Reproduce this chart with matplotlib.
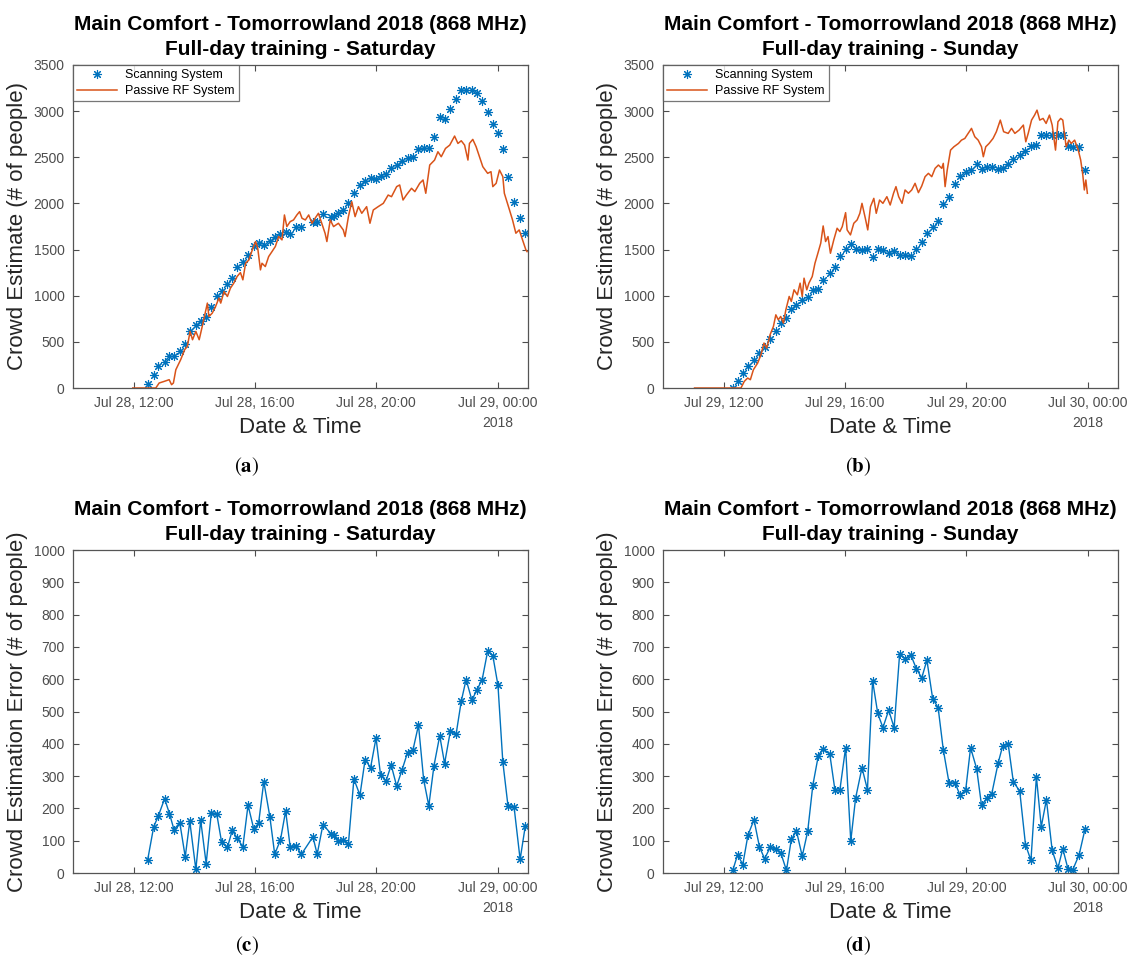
import numpy as np
import pandas as pd
import matplotlib
matplotlib.use("Agg")
import matplotlib.pyplot as plt
import matplotlib.dates as mdates

plt.rcParams['font.family'] = ['Liberation Sans', 'DejaVu Sans']

BLUE = '#0072BD'
ORANGE = '#D95319'
GREY = '#262626'

# ---- Saturday (Jul 28) -------------------------------------------------
sat_scan_hours = [12.46, 12.66, 12.81, 13.02, 13.18, 13.33, 13.52, 13.70, 13.85, 14.05,
                  14.21, 14.39, 14.56, 14.74, 14.90, 15.09, 15.25, 15.41, 15.60, 15.77,
                  15.96, 16.12, 16.29, 16.49, 16.65, 16.84, 17.01, 17.16, 17.34, 17.53,
                  17.91, 18.05, 18.24, 18.50, 18.59, 18.75, 18.91, 19.08, 19.26, 19.46,
                  19.63, 19.81, 19.99, 20.14, 20.32, 20.49, 20.67, 20.85, 21.03, 21.21,
                  21.39, 21.56, 21.73, 21.90, 22.09, 22.25, 22.44, 22.63, 22.80, 22.96,
                  23.15, 23.31, 23.49, 23.67, 23.84, 24.01, 24.17, 24.34, 24.54, 24.74,
                  24.91]
sat_scan_count = [43, 144, 242, 278, 343, 350, 397, 476, 613, 678,
                  721, 764, 883, 992, 1046, 1125, 1197, 1309, 1370, 1442,
                  1540, 1569, 1551, 1594, 1641, 1666, 1695, 1670, 1749, 1742,
                  1803, 1803, 1882, 1857, 1860, 1893, 1929, 2001, 2110, 2200,
                  2243, 2279, 2265, 2297, 2315, 2380, 2416, 2463, 2488, 2506,
                  2585, 2596, 2604, 2723, 2932, 2910, 3018, 3127, 3228, 3228,
                  3228, 3202, 3108, 2986, 2856, 2759, 2585, 2290, 2019, 1846,
                  1677]
sat_error = [40, 143, 176, 230, 184, 134, 156, 50, 160, 11,
             163, 29, 186, 182, 95, 79, 132, 108, 81, 210,
             136, 155, 283, 174, 58, 103, 192, 81, 85, 58,
             112, 58, 150, 122, 118, 98, 103, 91, 291, 241,
             351, 326, 418, 303, 285, 334, 269, 320, 373, 382,
             458, 289, 208, 332, 425, 339, 439, 430, 532, 599,
             535, 566, 599, 687, 673, 581, 344, 208, 205, 42,
             145]
sat_rf_hours = [11.97, 12.73, 12.84, 13.01, 13.17, 13.25, 13.31, 13.39, 13.55, 13.68,
                13.77, 13.86, 13.94, 14.05, 14.16, 14.26, 14.43, 14.48, 14.59, 14.70,
                14.81, 14.87, 14.98, 15.09, 15.19, 15.30, 15.41, 15.52, 15.60, 15.69,
                15.80, 15.91, 16.02, 16.09, 16.18, 16.23, 16.34, 16.45, 16.56, 16.67,
                16.78, 16.89, 16.97, 17.05, 17.16, 17.27, 17.38, 17.47, 17.55, 17.66,
                17.77, 17.88, 17.98, 18.09, 18.20, 18.31, 18.37, 18.48, 18.59, 18.75,
                18.91, 18.97, 19.08, 19.19, 19.30, 19.41, 19.52, 19.68, 19.79, 19.90,
                20.06, 20.23, 20.39, 20.50, 20.67, 20.77, 20.88, 20.99, 21.16, 21.27,
                21.43, 21.54, 21.63, 21.76, 21.92, 22.03, 22.14, 22.28, 22.42, 22.58,
                22.69, 22.80, 22.91, 23.02, 23.07, 23.18, 23.29, 23.51, 23.67, 23.78,
                23.84, 23.95, 24.06, 24.17, 24.22, 24.39, 24.49, 24.60, 24.71, 24.82,
                24.93, 24.97]
sat_rf_count = [0, 0, 54, 72, 90, 36, 54, 198, 307, 415,
                451, 613, 523, 613, 523, 667, 920, 775, 811, 883,
                974, 920, 1046, 992, 1082, 1136, 1208, 1251, 1172, 1352,
                1388, 1496, 1587, 1515, 1280, 1352, 1316, 1424, 1478, 1533,
                1641, 1605, 1875, 1749, 1803, 1821, 1875, 1911, 1839, 1821,
                1875, 1785, 1839, 1893, 1785, 1677, 1587, 1821, 1749, 1785,
                1713, 1641, 1857, 2019, 1857, 1965, 1893, 1965, 1785, 1929,
                1965, 2001, 2091, 2073, 2182, 2200, 2037, 2091, 2164, 2128,
                2218, 2254, 2110, 2416, 2470, 2560, 2506, 2596, 2632, 2730,
                2650, 2679, 2632, 2470, 2650, 2694, 2614, 2398, 2326, 2344,
                2182, 2218, 2362, 2290, 2110, 1929, 1821, 1677, 1713, 1605,
                1497, 1478]

# ---- Sunday (Jul 29) ---------------------------------------------------
sun_scan_hours = [12.30, 12.46, 12.63, 12.80, 13.00, 13.18, 13.35, 13.53, 13.71, 13.88,
                  14.07, 14.23, 14.40, 14.59, 14.77, 14.94, 15.12, 15.28, 15.50, 15.67,
                  15.83, 16.02, 16.19, 16.35, 16.56, 16.74, 16.91, 17.08, 17.25, 17.44,
                  17.62, 17.80, 17.98, 18.17, 18.35, 18.53, 18.70, 18.89, 19.07, 19.24,
                  19.43, 19.63, 19.79, 19.98, 20.14, 20.34, 20.50, 20.69, 20.84, 21.05,
                  21.20, 21.38, 21.55, 21.76, 21.95, 22.13, 22.31, 22.47, 22.64, 22.83,
                  23.02, 23.18, 23.35, 23.50, 23.72, 23.91]
sun_scan_count = [0, 72, 162, 234, 307, 379, 440, 530, 613, 703,
                  757, 855, 901, 956, 984, 1064, 1071, 1172, 1251, 1309,
                  1432, 1507, 1558, 1507, 1497, 1507, 1424, 1507, 1497, 1460,
                  1486, 1442, 1442, 1432, 1507, 1579, 1677, 1749, 1814, 1991,
                  2073, 2207, 2301, 2337, 2362, 2423, 2373, 2391, 2398, 2373,
                  2380, 2423, 2477, 2521, 2571, 2625, 2632, 2741, 2741, 2741,
                  2741, 2741, 2622, 2614, 2607, 2362]
sun_error = [8, 57, 26, 117, 165, 81, 44, 79, 75, 63,
             8, 104, 130, 52, 129, 272, 363, 385, 367, 256,
             256, 388, 99, 232, 326, 258, 595, 494, 450, 504,
             450, 677, 664, 675, 633, 604, 659, 540, 512, 382,
             279, 279, 241, 258, 388, 323, 210, 233, 246, 341,
             394, 399, 282, 254, 88, 39, 298, 143, 227, 70,
             15, 75, 13, 8, 57, 135]
sun_rf_hours = [11.04, 12.57, 12.68, 12.79, 12.88, 12.98, 13.12, 13.23, 13.33, 13.42,
                13.53, 13.64, 13.72, 13.80, 13.88, 13.97, 14.05, 14.16, 14.23, 14.32,
                14.43, 14.52, 14.59, 14.65, 14.74, 14.81, 14.92, 15.01, 15.09, 15.20,
                15.28, 15.36, 15.44, 15.52, 15.63, 15.74, 15.83, 15.91, 16.02, 16.07,
                16.18, 16.29, 16.40, 16.49, 16.56, 16.67, 16.75, 16.84, 16.95, 17.03,
                17.14, 17.25, 17.38, 17.49, 17.60, 17.68, 17.77, 17.88, 17.98, 18.09,
                18.20, 18.31, 18.42, 18.53, 18.64, 18.75, 18.86, 18.97, 19.08, 19.19,
                19.24, 19.30, 19.37, 19.48, 19.59, 19.74, 19.84, 19.95, 20.06, 20.17,
                20.28, 20.39, 20.50, 20.56, 20.64, 20.75, 20.88, 20.99, 21.12, 21.23,
                21.38, 21.49, 21.60, 21.74, 21.88, 21.96, 22.04, 22.15, 22.25, 22.33,
                22.42, 22.53, 22.63, 22.74, 22.83, 22.94, 23.02, 23.11, 23.18, 23.29,
                23.38, 23.46, 23.57, 23.69, 23.77, 23.84, 23.89, 23.94, 23.99]
sun_rf_count = [0, 0, 72, 108, 90, 198, 270, 361, 487, 433,
                577, 667, 793, 739, 775, 703, 847, 992, 938, 1064,
                1010, 1136, 992, 1190, 1064, 1136, 1208, 1352, 1442, 1569,
                1756, 1587, 1641, 1460, 1605, 1731, 1695, 1749, 1900, 1713,
                1659, 1785, 1821, 1893, 2001, 1839, 1713, 1965, 2055, 1893,
                2037, 2001, 2073, 1983, 2110, 2182, 2073, 2001, 2146, 2110,
                2146, 2218, 2117, 2189, 2290, 2326, 2290, 2380, 2416, 2380,
                2434, 2182, 2362, 2578, 2614, 2650, 2686, 2704, 2759, 2813,
                2722, 2686, 2614, 2506, 2614, 2650, 2704, 2777, 2903, 2777,
                2759, 2813, 2759, 2795, 2849, 2668, 2759, 2903, 2957, 3011,
                2903, 2921, 2867, 2957, 2849, 2578, 2885, 2921, 2903, 2614,
                2686, 2650, 2686, 2578, 2470, 2308, 2146, 2254, 2110]

title_line1 = 'Main Comfort - Tomorrowland 2018 (868 MHz)'
day_dates = ['2018-07-28', '2018-07-29']
panel_tags = ['a', 'b', 'c', 'd']


def to_dates(day, hours):
    base = pd.Timestamp(day)
    t = base + pd.to_timedelta(np.asarray(hours), unit='h')
    return mdates.date2num(t.to_pydatetime())


def style_axes(ax, day, ymax, ystep):
    base = pd.Timestamp(day)
    ax.set_xlim(to_dates(day, [10, 25]))
    ax.set_ylim(0, ymax)
    ax.set_yticks(np.arange(0, ymax + 1, ystep))
    ticks = to_dates(day, [12, 16, 20, 24])
    ax.set_xticks(ticks)
    ax.xaxis.set_major_formatter(mdates.DateFormatter('%b %d, %H:%M'))
    ax.tick_params(direction='in', top=True, right=True, length=4, width=0.8,
                   labelsize=10, colors='#4d4d4d', pad=6)
    for sp in ax.spines.values():
        sp.set_color('#555555')
        sp.set_linewidth(0.9)
    ax.text(ticks[-1], -0.108, '2018', transform=ax.get_xaxis_transform(),
            ha='center', va='center', fontsize=10, color='#4d4d4d')
    ax.set_xlabel('Date & Time', fontsize=16, color=GREY, labelpad=5)
    ax.set_title(title_line1 + '\nFull-day training - ' + base.day_name(),
                 fontsize=15, fontweight='bold', pad=7, linespacing=1.42)


def main():
    fig = plt.figure(figsize=(11.37, 9.71), dpi=100)
    W, H = 1137, 971
    aw, ah = 455, 323
    corners = [(73, 65), (663, 65), (73, 550), (663, 550)]
    axes = [fig.add_axes([x / W, 1 - (y + ah) / H, aw / W, ah / H]) for x, y in corners]

    scan_h = [sat_scan_hours, sun_scan_hours]
    scan_c = [sat_scan_count, sun_scan_count]
    errs = [sat_error, sun_error]
    rf_h = [sat_rf_hours, sun_rf_hours]
    rf_c = [sat_rf_count, sun_rf_count]
    star = (8, 2, 0)

    for i in range(2):
        day = day_dates[i]
        # estimate panels
        ax = axes[i]
        ax.plot(to_dates(day, scan_h[i]), scan_c[i], linestyle='none', marker=star,
                markersize=6.5, markeredgewidth=0.8, color=BLUE, label='Scanning System')
        ax.plot(to_dates(day, rf_h[i]), rf_c[i], color=ORANGE, linewidth=1.1,
                label='Passive RF System')
        style_axes(ax, day, 3500, 500)
        ax.set_ylabel('Crowd Estimate (# of people)', fontsize=16, color=GREY, labelpad=4)
        leg = ax.legend(loc='upper left', fontsize=9, frameon=True, fancybox=False,
                        borderaxespad=0, handlelength=3.2, borderpad=0.35,
                        labelspacing=0.3, handletextpad=0.6)
        leg.get_frame().set_edgecolor('#555555')
        leg.get_frame().set_linewidth(0.9)

        # error panels
        ax = axes[i + 2]
        ax.plot(to_dates(day, scan_h[i]), errs[i], marker=star, markersize=6.5,
                markeredgewidth=0.8, color=BLUE, linewidth=1.0)
        style_axes(ax, day, 1000, 100)
        ax.set_ylabel('Crowd Estimation Error (# of people)', fontsize=16, color=GREY,
                      labelpad=4)

    caption_pos = [(247, 467), (858, 467), (247, 946), (858, 946)]
    for (x, y), tag in zip(caption_pos, panel_tags):
        fig.text(x / W, 1 - y / H, r'$(\mathbf{' + tag + '})$', ha='center', va='center',
                 fontsize=15, math_fontfamily='stix')

    fig.savefig('out.png', dpi=100)


if __name__ == "__main__":
    main()
